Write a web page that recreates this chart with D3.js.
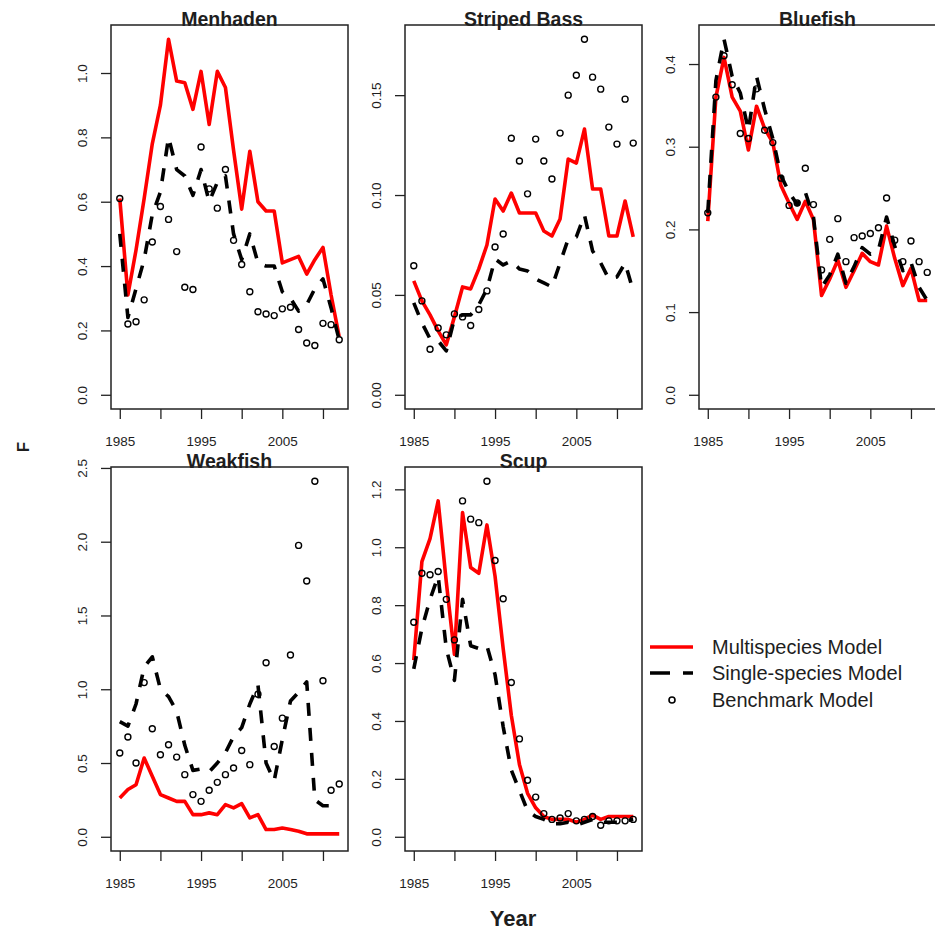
<!DOCTYPE html>
<html>
<head>
<meta charset="utf-8">
<script src="https://cdn.jsdelivr.net/npm/d3@7"></script>
<style>
  html, body { margin: 0; padding: 0; background: #fff; }
  svg { display: block; }
  text { font-family: "Liberation Sans", Arial, sans-serif; fill: #1e1e1e; }
</style>
</head>
<body>
<svg id="chart" width="935" height="932"></svg>
<script>
// Fishing mortality (F) by year for five species under three assessment models
const years = [1985,1986,1987,1988,1989,1990,1991,1992,1993,1994,1995,1996,1997,1998,
               1999,2000,2001,2002,2003,2004,2005,2006,2007,2008,2009,2010,2011,2012];

const xTicks = [1985, 1990, 1995, 2000, 2005, 2010];
const xTickLabels = ["1985", "", "1995", "", "2005", ""];

// Menhaden
const menMulti  = [0.61,0.31,0.45,0.61,0.78,0.90,1.105,0.975,0.97,0.887,1.005,0.84,1.005,0.955,0.76,0.577,0.757,0.60,0.571,0.571,0.41,0.42,0.43,0.375,0.42,0.458,0.31,0.18];
const menSingle = [0.50,0.24,0.33,0.42,0.56,0.63,0.80,0.70,0.68,0.62,0.70,0.60,0.66,0.68,0.50,0.42,0.50,0.41,0.40,0.40,0.32,0.30,0.26,0.28,0.33,0.36,0.27,0.17];
const menBench  = [0.61,0.22,0.227,0.295,0.475,0.585,0.545,0.445,0.334,0.327,0.77,0.64,0.58,0.70,0.48,0.405,0.32,0.258,0.251,0.246,0.267,0.272,0.203,0.161,0.153,0.222,0.218,0.171];
const menTicks  = [0, 0.2, 0.4, 0.6, 0.8, 1.0];

// Striped Bass
const sbMulti  = [0.057,0.047,0.040,0.032,0.025,0.039,0.054,0.053,0.063,0.075,0.098,0.092,0.101,0.091,0.091,0.091,0.082,0.0795,0.088,0.118,0.116,0.133,0.103,0.103,0.0795,0.0795,0.097,0.079];
const sbSingle = [0.046,0.036,0.028,0.027,0.022,0.038,0.040,0.040,0.045,0.053,0.068,0.065,0.067,0.063,0.062,0.058,0.056,0.054,0.066,0.078,0.079,0.090,0.072,0.066,0.058,0.059,0.066,0.052];
const sbBench  = [0.0646,0.047,0.0228,0.0334,0.030,0.0405,0.039,0.0347,0.0427,0.052,0.074,0.0805,0.1284,0.117,0.1006,0.128,0.117,0.108,0.131,0.150,0.160,0.178,0.159,0.153,0.134,0.1255,0.148,0.126];
const sbTicks  = [0, 0.05, 0.10, 0.15];

// Bluefish
const bfMulti  = [0.21,0.36,0.408,0.36,0.343,0.296,0.349,0.322,0.305,0.253,0.232,0.212,0.234,0.212,0.12,0.14,0.163,0.13,0.15,0.171,0.161,0.157,0.204,0.165,0.132,0.153,0.114,0.114];
const bfSingle = [0.22,0.38,0.43,0.385,0.365,0.32,0.385,0.345,0.31,0.265,0.245,0.23,0.245,0.215,0.13,0.145,0.17,0.135,0.155,0.178,0.17,0.175,0.215,0.18,0.15,0.16,0.13,0.114];
const bfBench  = [0.22,0.36,0.41,0.375,0.316,0.31,0.37,0.32,0.305,0.262,0.229,0.232,0.274,0.23,0.151,0.188,0.213,0.161,0.19,0.192,0.195,0.202,0.238,0.187,0.161,0.186,0.161,0.148];
const bfTicks  = [0, 0.1, 0.2, 0.3, 0.4];

// Weakfish
const wfMulti  = [0.263,0.32,0.353,0.534,0.41,0.286,0.263,0.24,0.24,0.15,0.15,0.162,0.15,0.218,0.196,0.225,0.128,0.15,0.049,0.049,0.06,0.05,0.038,0.02,0.02,0.02,0.02,0.02];
const wfSingle = [0.78,0.75,0.90,1.15,1.22,1.00,0.95,0.85,0.62,0.45,0.46,0.44,0.50,0.57,0.68,0.74,0.90,1.03,0.50,0.38,0.66,0.92,0.98,1.05,0.25,0.21,0.21,0.21];
const wfBench  = [0.568,0.676,0.5,1.045,0.732,0.556,0.624,0.54,0.421,0.286,0.24,0.315,0.369,0.421,0.466,0.585,0.489,0.966,1.18,0.612,0.804,1.232,1.975,1.734,2.41,1.058,0.315,0.358];
const wfTicks  = [0, 0.5, 1.0, 1.5, 2.0, 2.5];

// Scup
const scMulti  = [0.61,0.95,1.03,1.16,0.88,0.63,1.12,0.93,0.91,1.077,0.90,0.65,0.42,0.25,0.15,0.10,0.07,0.06,0.06,0.06,0.05,0.06,0.075,0.06,0.07,0.07,0.07,0.07];
const scSingle = [0.58,0.72,0.82,0.90,0.65,0.54,0.82,0.66,0.65,0.66,0.56,0.38,0.23,0.16,0.09,0.07,0.06,0.045,0.045,0.05,0.04,0.05,0.06,0.05,0.05,0.05,0.055,0.06];
const scBench  = [0.741,0.91,0.905,0.916,0.82,0.68,1.16,1.097,1.085,1.228,0.954,0.822,0.533,0.338,0.195,0.137,0.08,0.06,0.065,0.08,0.055,0.06,0.07,0.04,0.055,0.055,0.055,0.06];
const scTicks  = [0, 0.2, 0.4, 0.6, 0.8, 1.0, 1.2];

const legendLabels = ["Multispecies Model", "Single-species Model", "Benchmark Model"];

const panels = [
  { title: "Menhaden",     multi: menMulti, single: menSingle, bench: menBench, ticks: menTicks, fmt: ".1f", col: 0, row: 0 },
  { title: "Striped Bass", multi: sbMulti,  single: sbSingle,  bench: sbBench,  ticks: sbTicks,  fmt: ".2f", col: 1, row: 0 },
  { title: "Bluefish",     multi: bfMulti,  single: bfSingle,  bench: bfBench,  ticks: bfTicks,  fmt: ".1f", col: 2, row: 0 },
  { title: "Weakfish",     multi: wfMulti,  single: wfSingle,  bench: wfBench,  ticks: wfTicks,  fmt: ".1f", col: 0, row: 1 },
  { title: "Scup",         multi: scMulti,  single: scSingle,  bench: scBench,  ticks: scTicks,  fmt: ".1f", col: 1, row: 1 }
];

// Layout of the 2 x 3 grid of plot boxes
const colLeft = [111, 405, 699];
const rowTop = [25, 467];
const pw = 237, ph = 384;
const dash = "13,12";
const legendDash = "20,13";
const lineW = 3.6;

const svg = d3.select("#chart");
svg.append("rect").attr("width", 935).attr("height", 932).attr("fill", "#fff");

const [yr0, yr1] = d3.extent(years);
const xPad = (yr1 - yr0) * 0.04;

panels.forEach(p => {
  const g = svg.append("g").attr("transform", `translate(${colLeft[p.col]},${rowTop[p.row]})`);

  const x = d3.scaleLinear().domain([yr0 - xPad, yr1 + xPad]).range([0, pw]);
  const top = d3.max([...p.multi, ...p.single, ...p.bench]);
  const y = d3.scaleLinear().domain([-0.04 * top, top * 1.04]).range([ph, 0]);

  const line = d3.line().x((d, i) => x(years[i])).y(d => y(d));

  // multispecies (red, solid)
  g.append("path").datum(p.multi).attr("d", line)
    .attr("fill", "none").attr("stroke", "#ff0000").attr("stroke-width", lineW)
    .attr("stroke-linejoin", "round");

  // single-species (black, dashed)
  g.append("path").datum(p.single).attr("d", line)
    .attr("fill", "none").attr("stroke", "#000").attr("stroke-width", lineW)
    .attr("stroke-dasharray", dash).attr("stroke-linejoin", "round");

  // benchmark (open circles)
  g.selectAll("circle.bench").data(p.bench).join("circle")
    .attr("class", "bench")
    .attr("cx", (d, i) => x(years[i])).attr("cy", d => y(d)).attr("r", 3)
    .attr("fill", "none").attr("stroke", "#000").attr("stroke-width", 1.4);

  // x axis
  const xa = d3.axisBottom(x).tickValues(xTicks)
    .tickFormat((d, i) => xTickLabels[i]).tickSize(10).tickSizeOuter(0);
  const gx = g.append("g").attr("transform", `translate(0,${ph})`).call(xa);
  gx.select(".domain").remove();
  gx.selectAll(".tick line").attr("stroke", "#222").attr("stroke-width", 1.3);
  gx.selectAll(".tick text").attr("y", 32).attr("dy", "0.35em")
    .attr("font-size", 13.5).attr("fill", "#1e1e1e")
    .attr("font-family", "'Liberation Sans', Arial, sans-serif");

  // y axis
  const ya = d3.axisLeft(y).tickValues(p.ticks).tickFormat(d3.format(p.fmt))
    .tickSize(10).tickSizeOuter(0);
  const gy = g.append("g").call(ya);
  gy.select(".domain").remove();
  gy.selectAll(".tick line").attr("stroke", "#222").attr("stroke-width", 1.3);
  gy.selectAll(".tick text").attr("x", null).attr("dy", null)
    .attr("transform", "translate(-29,0) rotate(-90)")
    .attr("text-anchor", "middle").attr("dominant-baseline", "central")
    .attr("font-size", 13.5).attr("fill", "#1e1e1e")
    .attr("font-family", "'Liberation Sans', Arial, sans-serif");

  // plot box
  g.append("rect").attr("x", 0).attr("y", 0).attr("width", pw).attr("height", ph)
    .attr("fill", "none").attr("stroke", "#222").attr("stroke-width", 1.5);

  // panel title
  g.append("text").attr("x", pw / 2).attr("y", 1)
    .attr("text-anchor", "middle").attr("font-weight", "bold").attr("font-size", 19.5)
    .text(p.title);
});

// shared axis titles
svg.append("text").attr("transform", "translate(23,447) rotate(-90)")
  .attr("text-anchor", "middle").attr("dominant-baseline", "central")
  .attr("font-weight", "bold").attr("font-size", 17).text("F");
svg.append("text").attr("x", 513).attr("y", 926)
  .attr("text-anchor", "middle").attr("font-weight", "bold").attr("font-size", 22).text("Year");

// legend
const lg = svg.append("g");
const rowsY = [647, 673, 700];
lg.append("line").attr("x1", 650).attr("x2", 693).attr("y1", rowsY[0]).attr("y2", rowsY[0])
  .attr("stroke", "#ff0000").attr("stroke-width", lineW);
lg.append("line").attr("x1", 650).attr("x2", 693).attr("y1", rowsY[1]).attr("y2", rowsY[1])
  .attr("stroke", "#000").attr("stroke-width", lineW).attr("stroke-dasharray", legendDash);
lg.append("circle").attr("cx", 672).attr("cy", rowsY[2]).attr("r", 3)
  .attr("fill", "none").attr("stroke", "#000").attr("stroke-width", 1.6);
lg.selectAll("text.lab").data(legendLabels).join("text").attr("class", "lab")
  .attr("x", 712).attr("y", (d, i) => rowsY[i]).attr("dominant-baseline", "central")
  .attr("font-size", 20).text(d => d);
</script>
</body>
</html>
